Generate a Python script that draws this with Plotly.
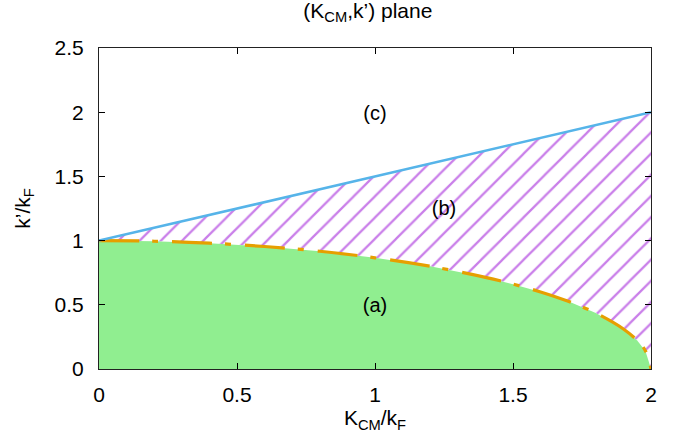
import plotly.graph_objects as go

# Boundary of region (a): k'/kF versus K_CM/kF
k_cm = [0.0, 0.2, 0.4, 0.6, 0.8, 1.0, 1.2, 1.4, 1.5, 1.6, 1.7, 1.8, 1.9, 1.95, 1.98, 2.0]
k_low = [1.0, 0.995, 0.980, 0.954, 0.917, 0.866, 0.800, 0.714, 0.661, 0.600, 0.527, 0.436, 0.312, 0.222, 0.141, 0.0]

# Upper boundary of region (b)
k_cm_up = [0.0, 2.0]
k_up = [1.0, 2.0]

# Region labels
region_text = ["(a)", "(b)", "(c)"]
region_x = [1.0, 1.25, 1.0]
region_y = [0.48, 1.24, 1.98]

FONT = "Liberation Sans, Arial, sans-serif"
FS = 21

fig = go.Figure()

# Hatched band between the two boundaries
fig.add_trace(go.Scatter(
    x=k_cm_up + k_cm[::-1],
    y=k_up + k_low[::-1],
    fill="toself",
    mode="none",
    fillcolor="rgba(0,0,0,0)",
    fillpattern=dict(shape="/", size=15, solidity=0.15,
                     fgcolor="#9400d3", bgcolor="white"),
    hoverinfo="skip",
    showlegend=False,
))

# Filled region (a)
fig.add_trace(go.Scatter(
    x=k_cm, y=k_low, fill="tozeroy", mode="none",
    fillcolor="#90ee90", showlegend=False,
))

# Dash-dot boundary curve
fig.add_trace(go.Scatter(
    x=k_cm, y=k_low, mode="lines",
    line=dict(color="#e69f00", width=3.2, dash="40px,13px,6px,14px", shape="spline"),
    showlegend=False,
))

# Straight upper boundary
fig.add_trace(go.Scatter(
    x=k_cm_up, y=k_up, mode="lines",
    line=dict(color="#56b4e9", width=2.6),
    showlegend=False,
))

# Region labels
fig.add_trace(go.Scatter(
    x=region_x, y=region_y, mode="text", text=region_text,
    textfont=dict(family=FONT, size=20, color="black"),
    showlegend=False,
))

axis_common = dict(
    showgrid=False, zeroline=False,
    showline=True, linecolor="#222222", linewidth=1.2, mirror="allticks",
    ticks="inside", ticklen=6, tickcolor="black", tickwidth=1,
    tickfont=dict(family=FONT, size=FS, color="black"),
)

fig.update_layout(
    width=682, height=442,
    margin=dict(l=99, r=31, t=48, b=73),
    paper_bgcolor="white", plot_bgcolor="white",
    font=dict(family=FONT, size=FS, color="black"),
    title=dict(text="(K<sub>CM</sub>,k’) plane", x=0.487, xref="paper",
               y=0.977, yanchor="middle", yref="container",
               font=dict(family=FONT, size=FS, color="black")),
    xaxis=dict(range=[0, 2], tickvals=[0, 0.5, 1, 1.5, 2],
               ticktext=["0", "0.5", "1", "1.5", "2"],
               title=dict(text="K<sub>CM</sub>/k<sub>F</sub>", standoff=5,
                          font=dict(family=FONT, size=FS)),
               ticklabelstandoff=7, **axis_common),
    yaxis=dict(range=[0, 2.5], tickvals=[0, 0.5, 1, 1.5, 2, 2.5],
               ticktext=["0", "0.5", "1", "1.5", "2", "2.5"],
               title=dict(text="k’/k<sub>F</sub>", standoff=18,
                          font=dict(family=FONT, size=FS)),
               ticklabelstandoff=10, **axis_common),
)

fig.write_html("out.html")
